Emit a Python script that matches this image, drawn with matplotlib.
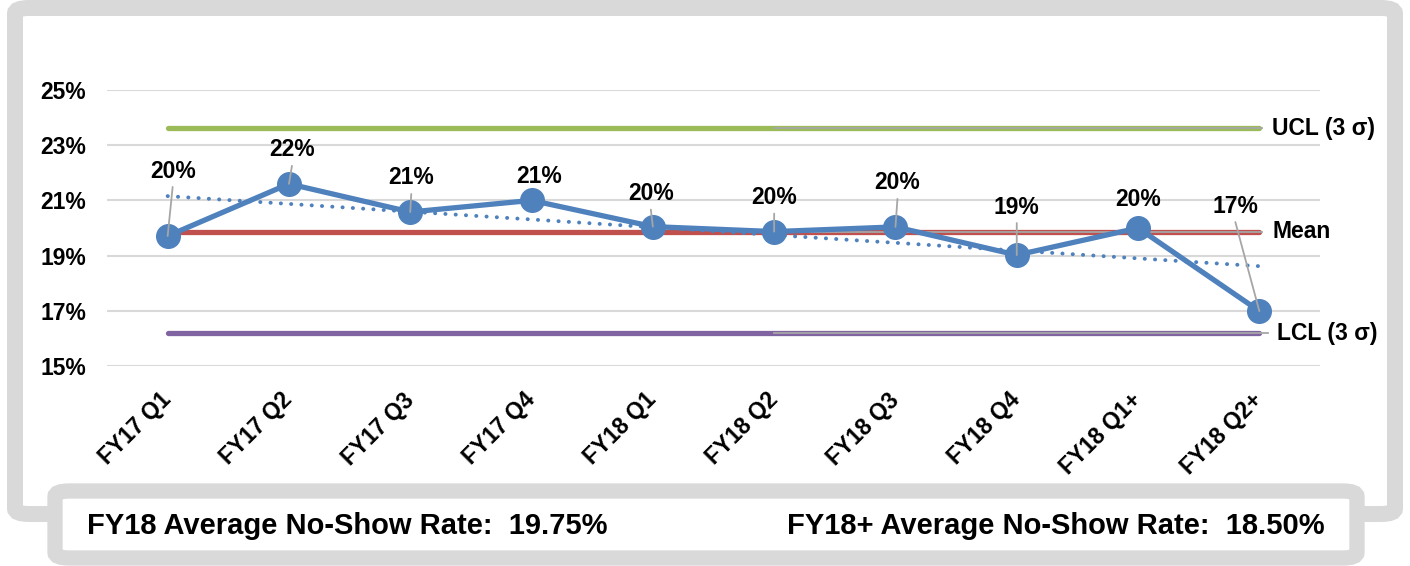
import numpy as np
import matplotlib.pyplot as plt
from matplotlib.patches import FancyBboxPatch

plt.rcParams['font.family'] = ['Liberation Sans', 'DejaVu Sans']
plt.rcParams['font.weight'] = 'bold'

# Data
quarters = ['FY17 Q1', 'FY17 Q2', 'FY17 Q3', 'FY17 Q4', 'FY18 Q1',
            'FY18 Q2', 'FY18 Q3', 'FY18 Q4', 'FY18 Q1+', 'FY18 Q2+']
no_show = [0.1971, 0.2160, 0.2058, 0.2100, 0.2005,
           0.1987, 0.2004, 0.1902, 0.2000, 0.1699]
ucl = 0.2362
mean = 0.1987
lcl = 0.1618
fy18_avg = '19.75%'
fy18_plus_avg = '18.50%'

# label offsets from the point, in pixels (dx, dy up)
label_off = [(5, 65), (3, 34), (1, 34), (8, 24), (-2, 33),
             (0, 34), (2, 44), (0, 48), (0, 28), (-24, 105)]
leader = [True, True, True, False, True, True, True, True, False, True]

W, H = 1410, 566
fig = plt.figure(figsize=(W / 100, H / 100), dpi=100)


def fx(px):
    return px / W


def fy(py):
    return 1 - py / H


# outer frame and bottom box
gray = '#D9D9D9'
fig.patches.append(FancyBboxPatch((fx(15), fy(514)), fx(1380), 506 / H,
                                  boxstyle='round,pad=0,rounding_size=0.01',
                                  transform=fig.transFigure, fc='white',
                                  ec=gray, lw=11.5, zorder=-5))
fig.patches.append(FancyBboxPatch((fx(55), fy(558)), fx(1302), 67 / H,
                                  boxstyle='round,pad=0,rounding_size=0.01',
                                  transform=fig.transFigure, fc='white',
                                  ec=gray, lw=11, zorder=5))

ax = fig.add_axes([fx(107), fy(366), fx(1320 - 107), (366 - 90) / H])
ax.patch.set_alpha(0)
x = np.arange(len(quarters))

ax.set_xlim(-0.5, len(quarters) - 0.5)
ax.set_ylim(0.15, 0.25)
ax.set_yticks([0.15, 0.17, 0.19, 0.21, 0.23, 0.25])
ax.set_yticklabels(['15%', '17%', '19%', '21%', '23%', '25%'])
ax.grid(axis='y', color='#D9D9D9', lw=1.5)
ax.set_axisbelow(True)
for s in ax.spines.values():
    s.set_visible(False)
ax.tick_params(axis='both', length=0, labelsize=16.5)
ax.tick_params(axis='y', pad=15)
ax.set_xticks(x)
ax.set_xticklabels(quarters, rotation=45, ha='right', va='center',
                   rotation_mode='anchor')
ax.tick_params(axis='x', pad=22)

# control lines
ax.plot(x, [ucl] * len(x), color='#9BBB59', lw=3.8, solid_capstyle='round', zorder=2)
ax.plot(x, [mean] * len(x), color='#C0504D', lw=3.8, solid_capstyle='round', zorder=2)
ax.plot(x, [lcl] * len(x), color='#8064A2', lw=3.8, solid_capstyle='round', zorder=2)
for v, end in [(ucl, 9.02), (mean, 9.02), (lcl, 9.07)]:
    ax.plot([5.0, end], [v, v], color='#A6A6A6', lw=1.3, zorder=2.5)

# trend line
coef = np.polyfit(x, no_show, 1)
ax.plot(x, np.polyval(coef, x), color='#4F81BD', lw=2.8,
        linestyle=(0, (0.05, 2.6)), dash_capstyle='round', zorder=3)

# main series
ax.plot(x, no_show, color='#4F81BD', lw=3.8, marker='o', markersize=17,
        solid_joinstyle='round', zorder=4)

# data labels with leader lines
for i, v in enumerate(no_show):
    dx, dy = label_off[i]
    ax.annotate(f'{v * 100:.0f}%', (i, v), xytext=(dx * 0.72, dy * 0.72),
                textcoords='offset points', ha='center', va='center',
                fontsize=16.5, zorder=6)
    if leader[i]:
        ax.annotate('', (i, v), xytext=(dx * 0.72, (dy - 16) * 0.72),
                    textcoords='offset points',
                    arrowprops=dict(arrowstyle='-', color='#A6A6A6', lw=1.3,
                                    shrinkA=0, shrinkB=0), zorder=5)

# right-side labels
ax.annotate('UCL (3 σ)', (9, ucl), xytext=(13 * 0.72, 0), textcoords='offset points',
            va='center', ha='left', fontsize=16.5, annotation_clip=False)
ax.annotate('Mean', (9, mean), xytext=(13 * 0.72, 0), textcoords='offset points',
            va='center', ha='left', fontsize=16.5, annotation_clip=False)
ax.annotate('LCL (3 σ)', (9, lcl), xytext=(18 * 0.72, 0), textcoords='offset points',
            va='center', ha='left', fontsize=16.5, annotation_clip=False)

# bottom summary
fig.text(fx(87), fy(526), f'FY18 Average No-Show Rate:  {fy18_avg}',
         ha='left', va='center', fontsize=21, zorder=6)
fig.text(fx(1325), fy(526), f'FY18+ Average No-Show Rate:  {fy18_plus_avg}',
         ha='right', va='center', fontsize=21, zorder=6)

fig.savefig('out.png', dpi=100)
